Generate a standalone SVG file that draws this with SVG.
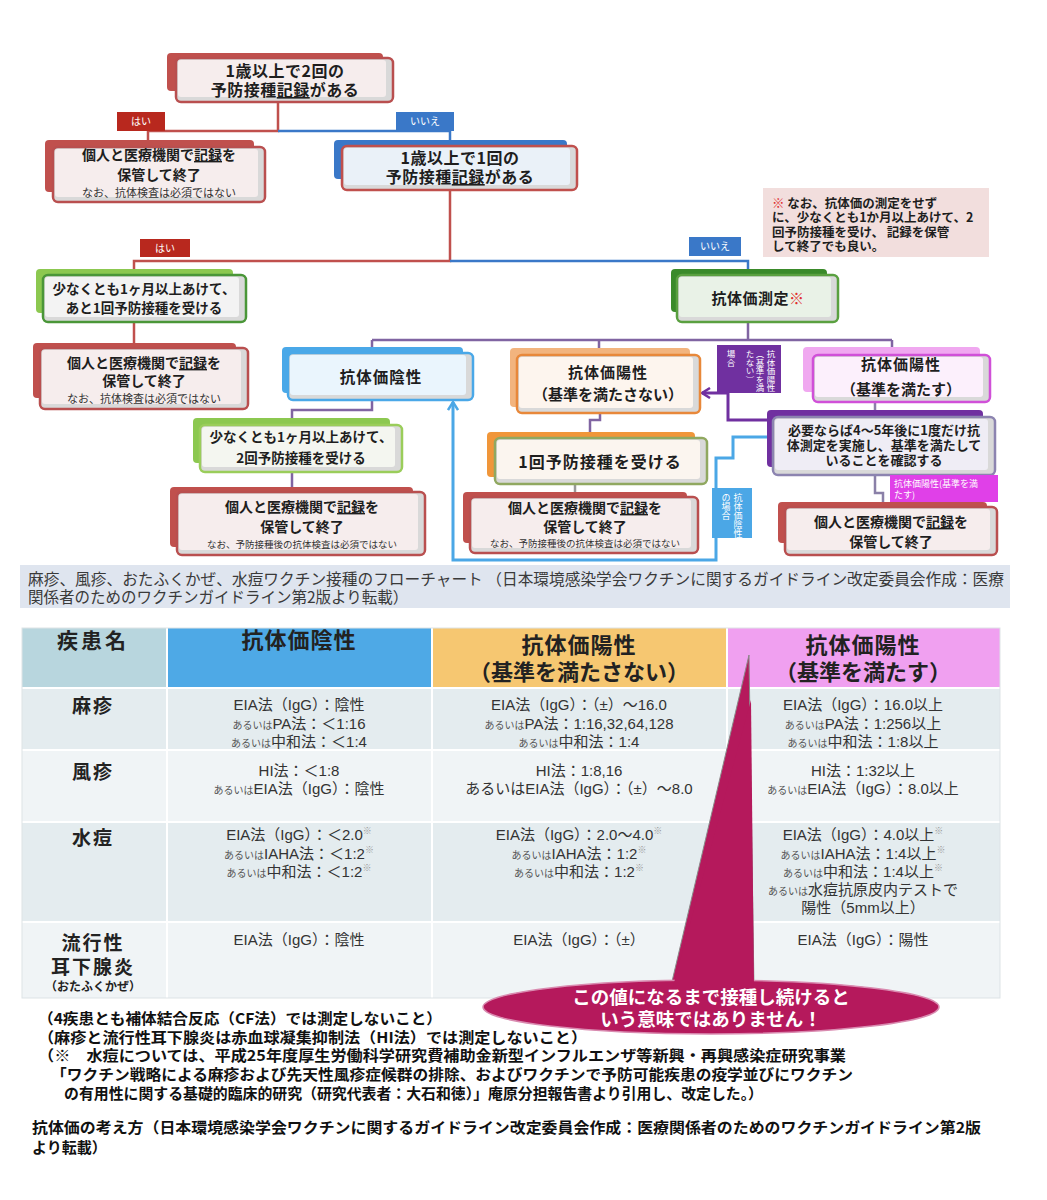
<svg xmlns="http://www.w3.org/2000/svg" width="1047" height="1200" viewBox="0 0 1047 1200">
<style>
.t{font-family:"Noto Sans CJK JP",sans-serif;font-weight:bold;fill:#1e1e1e;text-anchor:middle}
.l{text-anchor:start}
.s{font-weight:normal;fill:#333}
.lbl{font-family:"Noto Sans CJK JP",sans-serif;fill:#fff;font-size:10px;text-anchor:middle}
.ml{font-family:"Noto Sans CJK JP",sans-serif;fill:#fff;font-size:9px;text-anchor:start}
.vt{font-family:"Noto Sans CJK JP",sans-serif;fill:#fff;font-size:8.5px;writing-mode:vertical-rl}
.u{text-decoration:underline}
.cap{font-family:"Noto Sans CJK JP",sans-serif;fill:#3a3a3a;font-size:15.5px}
.th{font-family:"Noto Sans CJK JP",sans-serif;font-weight:bold;fill:#222;text-anchor:middle}
.td{font-family:"Liberation Sans","Noto Sans CJK JP",sans-serif;fill:#333;font-size:15px;text-anchor:middle}
.sm{font-size:10px;fill:#555}
.sup{font-size:9px;fill:#999}
.nt{font-family:"Noto Sans CJK JP",sans-serif;font-weight:bold;fill:#111;font-size:15px}
.bev{fill:#d9d9d9;stroke-width:2.5}
</style>
<defs>
<marker id="ap" markerWidth="12" markerHeight="12" refX="9" refY="6" orient="auto" markerUnits="userSpaceOnUse"><path d="M1,1 L9,6 L1,11" fill="none" stroke="#7030a0" stroke-width="2.5"/></marker>
<marker id="ab" markerWidth="12" markerHeight="12" refX="9" refY="6" orient="auto" markerUnits="userSpaceOnUse"><path d="M1,1 L9,6 L1,11" fill="none" stroke="#4ba7e6" stroke-width="2.5"/></marker>
</defs>
<rect width="1047" height="1200" fill="#fff"/>

<g id="connectors" fill="none" stroke-width="2.5">
<path d="M278 102 V131 H148 V147" stroke="#c0504d"/>
<path d="M278 131 H450 V146" stroke="#3a78c8"/>
<path d="M450 190 V261 H134 V270" stroke="#c0504d"/>
<path d="M450 261 H748 V270" stroke="#3a78c8"/>
<path d="M134 322 V343" stroke="#c0504d"/>
<path d="M748 322 V340 M372 340 H892 M372 340 V353 M599 340 V355 M892 340 V348" stroke="#8064a2"/>
<path d="M372 400 V410 H292 V425 M292 472 V492" stroke="#8064a2"/>
<path d="M600 413 V420 H590 V432" stroke="#8064a2"/>
<path d="M575 484 V497" stroke="#999"/>
<path d="M875 402 V417 M875 475 V493 H883 V507" stroke="#8a80a8"/>
<path d="M767 420 H728 V393 H702" stroke="#7030a0" stroke-width="3" marker-end="url(#ap)"/>
<path d="M767 437 H733 V458 H716 V560 H453 V402" stroke="#4ba7e6" stroke-width="3" marker-end="url(#ab)"/>
</g>

<g id="label-hai1"><rect x="117" y="112" width="48" height="19" fill="#b8281e"/><text class="lbl" x="141" y="125">はい</text></g>
<g id="label-iie1"><rect x="396" y="112" width="58" height="19" fill="#3a78c8"/><text class="lbl" x="425" y="125">いいえ</text></g>
<g id="label-hai2"><rect x="140" y="239" width="50" height="18" fill="#b8281e"/><text class="lbl" x="165" y="252">はい</text></g>
<g id="label-iie2"><rect x="689" y="237" width="52" height="19" fill="#3a78c8"/><text class="lbl" x="715" y="250">いいえ</text></g>

<g id="n-top">
<rect x="167" y="53" width="216" height="38" rx="4" fill="#c0504d"/>
<rect x="176" y="58" width="217" height="44" rx="5" class="bev" stroke="#b94f4f"/>
<rect x="178" y="60" width="208" height="37" rx="3" fill="#f6eded"/>
<text class="t" x="285" y="77" font-size="16" letter-spacing="0.5">1歳以上で2回の</text>
<text class="t" x="285" y="96" font-size="16" letter-spacing="0.5">予防接種<tspan class="u">記録</tspan>がある</text>
</g>

<g id="n-end1">
<rect x="45" y="140" width="209" height="52" rx="4" fill="#c0504d"/>
<rect x="53" y="147" width="212" height="55" rx="5" class="bev" stroke="#b94f4f"/>
<rect x="55" y="149" width="203" height="48" rx="3" fill="#f6eded"/>
<text class="t" x="159" y="160" font-size="14">個人と医療機関で<tspan class="u">記録</tspan>を</text>
<text class="t" x="159" y="180" font-size="14">保管して終了</text>
<text class="t s" x="159" y="197" font-size="11">なお、抗体検査は必須ではない</text>
</g>

<g id="n-one">
<rect x="334" y="140" width="233" height="39" rx="4" fill="#3a78c8"/>
<rect x="342" y="146" width="235" height="44" rx="5" class="bev" stroke="#c0504d"/>
<rect x="344" y="148" width="226" height="37" rx="3" fill="#eaf1f8"/>
<text class="t" x="460" y="164" font-size="16" letter-spacing="0.5">1歳以上で1回の</text>
<text class="t" x="460" y="183" font-size="16" letter-spacing="0.5">予防接種<tspan class="u">記録</tspan>がある</text>
</g>

<g id="note">
<rect x="763" y="188" width="226" height="69" fill="#f2dedd"/>
<text class="t l" x="772" y="208" font-size="12.5"><tspan fill="#e03030">※</tspan> なお、抗体価の測定をせず</text>
<text class="t l" x="772" y="222" font-size="12.5">に、少なくとも1か月以上あけて、2</text>
<text class="t l" x="772" y="237" font-size="12.5">回予防接種を受け、 記録を保管</text>
<text class="t l" x="772" y="251" font-size="12.5">して終了でも良い。</text>
</g>

<g id="n-once-more">
<rect x="36" y="269" width="197" height="44" rx="4" fill="#8cc850"/>
<rect x="43" y="275" width="203" height="47" rx="5" class="bev" stroke="#4a9638"/>
<rect x="45" y="277" width="194" height="40" rx="3" fill="#f3f3f3"/>
<text class="t" x="144" y="294" font-size="13.5">少なくとも1ヶ月以上あけて、</text>
<text class="t" x="144" y="313" font-size="13.5">あと1回予防接種を受ける</text>
</g>

<g id="n-end2">
<rect x="33" y="343" width="203" height="55" rx="4" fill="#c0504d"/>
<rect x="40" y="348" width="208" height="61" rx="5" class="bev" stroke="#b94f4f"/>
<rect x="42" y="350" width="199" height="54" rx="3" fill="#f6eded"/>
<text class="t" x="144" y="368" font-size="14">個人と医療機関で<tspan class="u">記録</tspan>を</text>
<text class="t" x="144" y="386" font-size="14">保管して終了</text>
<text class="t s" x="144" y="403" font-size="11">なお、抗体検査は必須ではない</text>
</g>

<g id="n-measure">
<rect x="671" y="269" width="156" height="43" rx="4" fill="#3a8a2a"/>
<rect x="677" y="275" width="161" height="47" rx="5" class="bev" stroke="#5aa040"/>
<rect x="679" y="277" width="152" height="40" rx="3" fill="#e9f2e7"/>
<text class="t" x="758" y="304" font-size="15" letter-spacing="0.5">抗体価測定<tspan fill="#e03030">※</tspan></text>
</g>

<g id="n-neg">
<rect x="282" y="347" width="181" height="46" rx="4" fill="#4aa8e8"/>
<rect x="288" y="353" width="185" height="47" rx="5" class="bev" stroke="#4aa8e8"/>
<rect x="290" y="355" width="176" height="40" rx="3" fill="#eaf5fd"/>
<text class="t" x="381" y="383" font-size="15.5" letter-spacing="1">抗体価陰性</text>
</g>

<g id="n-pos-low">
<rect x="510" y="348" width="180" height="59" rx="4" fill="#f2b47e"/>
<rect x="517" y="355" width="183" height="58" rx="5" class="bev" stroke="#e8883a"/>
<rect x="519" y="357" width="174" height="51" rx="3" fill="#fdf5ee"/>
<text class="t" x="608" y="378" font-size="15" letter-spacing="1">抗体価陽性</text>
<text class="t" x="608" y="400" font-size="15">（基準を満たさない）</text>
</g>

<g id="n-pos-ok">
<rect x="803" y="347" width="177" height="45" rx="4" fill="#f0a8f0"/>
<rect x="813" y="355" width="177" height="47" rx="5" class="bev" stroke="#d050d8"/>
<rect x="815" y="357" width="168" height="40" rx="3" fill="#fcf0fc"/>
<text class="t" x="901" y="370" font-size="15" letter-spacing="1">抗体価陽性</text>
<text class="t" x="901" y="395" font-size="15">（基準を満たす）</text>
</g>

<g id="label-purple">
<rect x="717" y="345" width="64" height="48" fill="#7030a0"/>
<text class="vt" x="771" y="350">抗体価陽性</text>
<text class="vt" x="760" y="350">（基準を満</text>
<text class="vt" x="750" y="350">たない）</text>
<text class="vt" x="731" y="350">場合</text>
</g>

<g id="n-recheck">
<rect x="767" y="410" width="216" height="57" rx="4" fill="#7030a0"/>
<rect x="773" y="417" width="222" height="58" rx="5" class="bev" stroke="#8c84b0"/>
<rect x="775" y="419" width="213" height="51" rx="3" fill="#efedf5"/>
<text class="t" x="884" y="435" font-size="13">必要ならば4〜5年後に1度だけ抗</text>
<text class="t" x="884" y="450" font-size="13">体測定を実施し、基準を満たして</text>
<text class="t" x="884" y="465" font-size="13">いることを確認する</text>
</g>

<g id="label-magenta">
<rect x="890" y="475" width="108" height="27" fill="#e040e8"/>
<text class="ml" x="894" y="487">抗体価陽性(基準を満</text>
<text class="ml" x="894" y="498">たす)</text>
</g>

<g id="n-end-right">
<rect x="778" y="502" width="209" height="41" rx="4" fill="#c0504d"/>
<rect x="785" y="507" width="212" height="48" rx="5" class="bev" stroke="#b94f4f"/>
<rect x="787" y="509" width="203" height="41" rx="3" fill="#f6eded"/>
<text class="t" x="891" y="527" font-size="14">個人と医療機関で<tspan class="u">記録</tspan>を</text>
<text class="t" x="891" y="547" font-size="14">保管して終了</text>
</g>

<g id="n-twice">
<rect x="193" y="418" width="197" height="45" rx="4" fill="#8cc850"/>
<rect x="200" y="425" width="202" height="47" rx="5" class="bev" stroke="#9acd5a"/>
<rect x="202" y="427" width="193" height="40" rx="3" fill="#f4f6f0"/>
<text class="t" x="301" y="442" font-size="13.5">少なくとも1ヶ月以上あけて、</text>
<text class="t" x="301" y="463" font-size="13.5">2回予防接種を受ける</text>
</g>

<g id="n-end3">
<rect x="170" y="487" width="243" height="60" rx="4" fill="#c0504d"/>
<rect x="177" y="492" width="248" height="63" rx="5" class="bev" stroke="#b94f4f"/>
<rect x="179" y="494" width="239" height="56" rx="3" fill="#f6eded"/>
<text class="t" x="302" y="512" font-size="14">個人と医療機関で<tspan class="u">記録</tspan>を</text>
<text class="t" x="302" y="532" font-size="14">保管して終了</text>
<text class="t s" x="302" y="548" font-size="9.5">なお、予防接種後の抗体検査は必須ではない</text>
</g>

<g id="n-once">
<rect x="487" y="432" width="208" height="45" rx="4" fill="#f0963a"/>
<rect x="495" y="438" width="212" height="46" rx="5" class="bev" stroke="#90a860"/>
<rect x="497" y="440" width="203" height="39" rx="3" fill="#fbf5ef"/>
<text class="t" x="600" y="468" font-size="16" letter-spacing="1">1回予防接種を受ける</text>
</g>

<g id="n-end4">
<rect x="463" y="492" width="224" height="51" rx="4" fill="#c0504d"/>
<rect x="470" y="497" width="228" height="56" rx="5" class="bev" stroke="#b94f4f"/>
<rect x="472" y="499" width="219" height="49" rx="3" fill="#f6eded"/>
<text class="t" x="585" y="513" font-size="14">個人と医療機関で<tspan class="u">記録</tspan>を</text>
<text class="t" x="585" y="532" font-size="14">保管して終了</text>
<text class="t s" x="585" y="547" font-size="9.5">なお、予防接種後の抗体検査は必須ではない</text>
</g>

<g id="label-blue">
<rect x="712" y="488" width="40" height="50" fill="#4ba7e6"/>
<text class="vt" x="738" y="493" style="font-size:9px">抗体価陰性</text>
<text class="vt" x="726" y="493" style="font-size:9px">の場合</text>
</g>

<g id="caption">
<rect x="20" y="565" width="990" height="43" fill="#dfe5ef"/>
<text class="cap" x="28" y="585" textLength="976" lengthAdjust="spacingAndGlyphs">麻疹、風疹、おたふくかぜ、水痘ワクチン接種のフローチャート （日本環境感染学会ワクチンに関するガイドライン改定委員会作成：医療</text>
<text class="cap" x="28" y="603">関係者のためのワクチンガイドライン第2版より転載）</text>
</g>

<g id="table">
<rect x="22" y="628" width="145" height="60" fill="#b8d6de"/>
<rect x="167" y="628" width="265" height="60" fill="#4ea9e6"/>
<rect x="432" y="628" width="295" height="60" fill="#f6c771"/>
<rect x="727" y="628" width="273" height="60" fill="#f0a0f0"/>
<rect x="22" y="688" width="978" height="62" fill="#e4ecef"/>
<rect x="22" y="750" width="978" height="72" fill="#f0f4f6"/>
<rect x="22" y="822" width="978" height="100" fill="#e4ecef"/>
<rect x="22" y="922" width="978" height="76" fill="#f0f4f6"/>
<path d="M167 628 V998 M432 628 V998 M727 628 V998 M22 688 H1000 M22 750 H1000 M22 822 H1000 M22 922 H1000" stroke="#fff" stroke-width="2"/>
<rect x="22" y="628" width="978" height="370" fill="none" stroke="#dde3e6" stroke-width="1"/>
<text class="th" x="93" y="648" font-size="21" letter-spacing="3">疾患名</text>
<text class="th" x="299" y="648" font-size="22" letter-spacing="1">抗体価陰性</text>
<text class="th" x="579" y="653" font-size="22" letter-spacing="1">抗体価陽性</text>
<text class="th" x="579" y="680" font-size="22">（基準を満たさない）</text>
<text class="th" x="863" y="653" font-size="22" letter-spacing="1">抗体価陽性</text>
<text class="th" x="863" y="680" font-size="22">（基準を満たす）</text>
<text class="th" x="93" y="713" font-size="19" letter-spacing="2">麻疹</text>
<text class="th" x="93" y="779" font-size="19" letter-spacing="2">風疹</text>
<text class="th" x="93" y="845" font-size="19" letter-spacing="2">水痘</text>
<text class="th" x="93" y="950" font-size="19" letter-spacing="2">流行性</text>
<text class="th" x="93" y="974" font-size="19" letter-spacing="2">耳下腺炎</text>
<text class="th" x="93" y="991" font-size="12">（おたふくかぜ）</text>

<text class="td" x="299" y="710">EIA法（IgG）：陰性</text>
<text class="td" x="299" y="729"><tspan class="sm">あるいは</tspan>PA法：＜1:16</text>
<text class="td" x="299" y="747"><tspan class="sm">あるいは</tspan>中和法：＜1:4</text>
<text class="td" x="579" y="710">EIA法（IgG）：（±）〜16.0</text>
<text class="td" x="579" y="729"><tspan class="sm">あるいは</tspan>PA法：1:16,32,64,128</text>
<text class="td" x="579" y="747"><tspan class="sm">あるいは</tspan>中和法：1:4</text>
<text class="td" x="863" y="710">EIA法（IgG）：16.0以上</text>
<text class="td" x="863" y="729"><tspan class="sm">あるいは</tspan>PA法：1:256以上</text>
<text class="td" x="863" y="747"><tspan class="sm">あるいは</tspan>中和法：1:8以上</text>

<text class="td" x="299" y="776">HI法：＜1:8</text>
<text class="td" x="299" y="794"><tspan class="sm">あるいは</tspan>EIA法（IgG）：陰性</text>
<text class="td" x="579" y="776">HI法：1:8,16</text>
<text class="td" x="579" y="794">あるいはEIA法（IgG）：（±）〜8.0</text>
<text class="td" x="863" y="776">HI法：1:32以上</text>
<text class="td" x="863" y="794"><tspan class="sm">あるいは</tspan>EIA法（IgG）：8.0以上</text>

<text class="td" x="299" y="840">EIA法（IgG）：＜2.0<tspan class="sup" dy="-6">※</tspan></text>
<text class="td" x="299" y="859"><tspan class="sm">あるいは</tspan>IAHA法：＜1:2<tspan class="sup" dy="-6">※</tspan></text>
<text class="td" x="299" y="877"><tspan class="sm">あるいは</tspan>中和法：＜1:2<tspan class="sup" dy="-6">※</tspan></text>
<text class="td" x="579" y="840">EIA法（IgG）：2.0〜4.0<tspan class="sup" dy="-6">※</tspan></text>
<text class="td" x="579" y="859"><tspan class="sm">あるいは</tspan>IAHA法：1:2<tspan class="sup" dy="-6">※</tspan></text>
<text class="td" x="579" y="877"><tspan class="sm">あるいは</tspan>中和法：1:2<tspan class="sup" dy="-6">※</tspan></text>
<text class="td" x="863" y="840">EIA法（IgG）：4.0以上<tspan class="sup" dy="-6">※</tspan></text>
<text class="td" x="863" y="859"><tspan class="sm">あるいは</tspan>IAHA法：1:4以上<tspan class="sup" dy="-6">※</tspan></text>
<text class="td" x="863" y="877"><tspan class="sm">あるいは</tspan>中和法：1:4以上<tspan class="sup" dy="-6">※</tspan></text>
<text class="td" x="863" y="895"><tspan class="sm">あるいは</tspan>水痘抗原皮内テストで</text>
<text class="td" x="863" y="913">陽性（5mm以上）</text>

<text class="td" x="299" y="945">EIA法（IgG）：陰性</text>
<text class="td" x="579" y="945">EIA法（IgG）：（±）</text>
<text class="td" x="863" y="945">EIA法（IgG）：陽性</text>
</g>

<g id="callout">
<path d="M749 655 L754 990 L670 990 Z" fill="#b5195c" stroke="#8a8a8a" stroke-width="1"/>
<ellipse cx="711" cy="1007" rx="228" ry="27" fill="#b5195c" stroke="#d98bb0" stroke-width="1.5"/>
<path d="M751 700 L754 990 L672 990 Z" fill="#b5195c"/>
<text class="t" x="711" y="1004" font-size="18.5" style="fill:#fff">この値になるまで接種し続けると</text>
<text class="t" x="711" y="1026" font-size="18.5" style="fill:#fff">いう意味ではありません！</text>
</g>

<g id="notes">
<text class="nt" x="38" y="1024" textLength="404" lengthAdjust="spacingAndGlyphs">（4疾患とも補体結合反応（CF法）では測定しないこと）</text>
<text class="nt" x="38" y="1043" textLength="549" lengthAdjust="spacingAndGlyphs">（麻疹と流行性耳下腺炎は赤血球凝集抑制法（HI法）では測定しないこと）</text>
<text class="nt" x="38" y="1061" textLength="808" lengthAdjust="spacingAndGlyphs">（※　水痘については、平成25年度厚生労働科学研究費補助金新型インフルエンザ等新興・再興感染症研究事業</text>
<text class="nt" x="51" y="1080" textLength="802" lengthAdjust="spacingAndGlyphs">「ワクチン戦略による麻疹および先天性風疹症候群の排除、およびワクチンで予防可能疾患の疫学並びにワクチン</text>
<text class="nt" x="64" y="1099" textLength="699" lengthAdjust="spacingAndGlyphs">の有用性に関する基礎的臨床的研究（研究代表者：大石和徳）」庵原分担報告書より引用し、改定した。）</text>
<text class="nt" x="32" y="1133" textLength="949" lengthAdjust="spacingAndGlyphs">抗体価の考え方（日本環境感染学会ワクチンに関するガイドライン改定委員会作成：医療関係者のためのワクチンガイドライン第2版</text>
<text class="nt" x="32" y="1153">より転載）</text>
</g>
</svg>
